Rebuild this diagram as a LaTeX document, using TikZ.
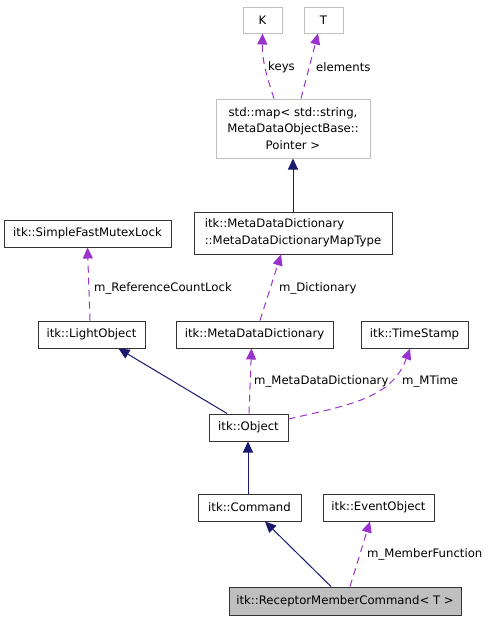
\documentclass[tikz,border=0pt]{standalone}
\usepackage{fontspec}
\setmainfont{DejaVu Sans}
\usetikzlibrary{arrows.meta,calc}
\definecolor{edgepurple}{HTML}{9A32CD}
\definecolor{edgenavy}{HTML}{191970}
\definecolor{boxgrey}{HTML}{BFBFBF}
\begin{document}
\begin{tikzpicture}[x=1pt,y=-1pt,
  every node/.style={font=\fontsize{11.7}{16.5}\selectfont},
  cls/.style={draw=black!80, line width=1pt, fill=white, inner sep=0pt, rectangle},
  ext/.style={draw=boxgrey, line width=1pt, fill=white, inner sep=0pt, rectangle},
  cur/.style={draw=black!80, line width=1pt, fill=boxgrey, inner sep=0pt, rectangle},
  inh/.style={draw=edgenavy, line width=1pt, -{Triangle[length=11pt,width=10pt]}},
  use/.style={draw=edgepurple, line width=1pt, dash pattern=on 7pt off 5pt, -{Triangle[length=11pt,width=10pt]}},
  lbl/.style={anchor=west, inner sep=0pt}
]
\useasboundingbox (0,0) rectangle (489,621);
\node[ext, minimum width=39pt, minimum height=26pt] (K) at (262.5,20) {K};
\node[ext, minimum width=39pt, minimum height=26pt] (T) at (323.5,20) {T};
\node[ext, minimum width=154pt, minimum height=59pt, align=center] (map) at (293,128.5) {std::map< std::string,\\ MetaDataObjectBase::\\ Pointer >};
\node[cls, minimum width=198pt, minimum height=42pt, align=left] (maptype) at (293,233) {itk::MetaDataDictionary\\::MetaDataDictionaryMapType};
\node[cls, minimum width=167pt, minimum height=27pt] (lock) at (87.5,233.5) {itk::SimpleFastMutexLock};
\node[cls, minimum width=107pt, minimum height=27pt] (light) at (91.5,334.5) {itk::LightObject};
\node[cls, minimum width=157pt, minimum height=27pt] (mdd) at (254.5,334.5) {itk::MetaDataDictionary};
\node[cls, minimum width=107pt, minimum height=27pt] (ts) at (414.5,334.5) {itk::TimeStamp};
\node[cls, minimum width=79pt, minimum height=27pt] (obj) at (248.5,427.5) {itk::Object};
\node[cls, minimum width=103pt, minimum height=27pt] (cmd) at (249.5,507.5) {itk::Command};
\node[cls, minimum width=111pt, minimum height=27pt] (ev) at (378.5,507.5) {itk::EventObject};
\node[cur, minimum width=232pt, minimum height=28pt] (rec) at (345,601) {itk::ReceptorMemberCommand< T >};

% template args
\draw[use] ([xshift=-19pt]map.north) .. controls (268,80) and (262,62) .. (K.south);
\draw[use] ([xshift=8pt]map.north) -- ([xshift=-5.5pt]T.south);
\node[lbl] (lkeys) at (268,67) {keys};
\node[lbl] (lelem) at (316,67) {elements};

% inheritance map
\draw[inh] (maptype.north) -- (map.south);

\draw[use] ([xshift=-1.5pt]light.north) -- (lock.south);
\node[lbl] (lref) at (94,288) {m\_ReferenceCountLock};

\draw[use] ([xshift=5.5pt]mdd.north) -- ([xshift=-12pt]maptype.south);
\node[lbl] (ldict) at (279,288) {m\_Dictionary};

\draw[inh] ([xshift=-21.5pt]obj.north) -- ([xshift=27pt]light.south);
\draw[use] ([xshift=0.5pt]obj.north) -- ([xshift=-3pt]mdd.south);
\node[lbl] (lmdd) at (254,381) {m\_MetaDataDictionary};

\coordinate (objE) at ($(obj.east)+(0,-8.5)$);
\draw[use] (objE) .. controls (350,405) and (392,398) .. ([xshift=-4.5pt]ts.south);
\node[lbl] (lmt) at (402,381) {m\_MTime};

\draw[inh] ([xshift=-1.5pt]cmd.north) -- ([xshift=-0.5pt]obj.south);
\draw[inh] ([xshift=-14pt]rec.north) -- ([xshift=15.5pt]cmd.south);
\draw[use] ([xshift=5pt]rec.north) -- ([xshift=-8.5pt]ev.south);
\node[lbl] (lmf) at (367,554) {m\_MemberFunction};
\end{tikzpicture}
\end{document}
